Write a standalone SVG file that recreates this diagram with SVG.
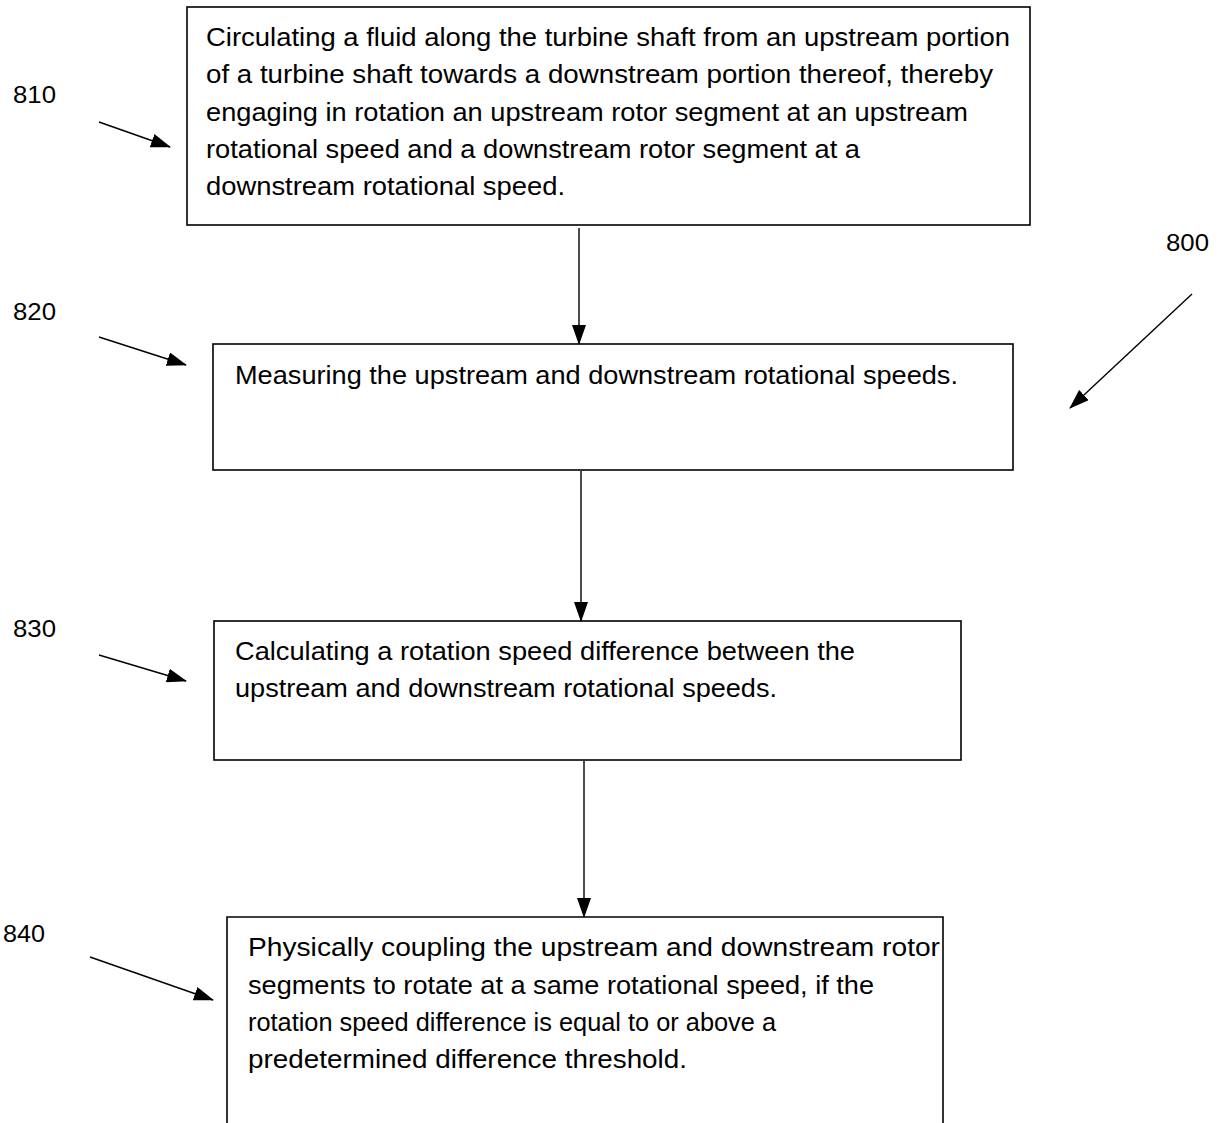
<svg xmlns="http://www.w3.org/2000/svg" width="1225" height="1123" viewBox="0 0 1225 1123">
<defs>
<marker id="ah" markerWidth="20" markerHeight="14" refX="19" refY="7" orient="auto" markerUnits="userSpaceOnUse">
<path d="M0,0 L20,7 L0,14 Z" fill="#000"/>
</marker>
<style>
.box{fill:#fff;stroke:#000;stroke-width:1.6}
.t{font-family:"Liberation Sans",Arial,sans-serif;font-size:26px;fill:#000}
.lbl{font-family:"Liberation Sans",Arial,sans-serif;font-size:23px;fill:#000}
.c{stroke:#000;stroke-width:1.4;fill:none;marker-end:url(#ah)}
</style>
</defs>
<rect width="1225" height="1123" fill="#fff"/>
<g id="n810">
<rect class="box" x="187" y="7" width="843" height="218"/>
<text class="t" x="206" y="46" textLength="804" lengthAdjust="spacingAndGlyphs">Circulating a fluid along the turbine shaft from an upstream portion</text>
<text class="t" x="206" y="83" textLength="787" lengthAdjust="spacingAndGlyphs">of a turbine shaft towards a downstream portion thereof, thereby</text>
<text class="t" x="206" y="121" textLength="762" lengthAdjust="spacingAndGlyphs">engaging in rotation an upstream rotor segment at an upstream</text>
<text class="t" x="206" y="158" textLength="654" lengthAdjust="spacingAndGlyphs">rotational speed and a downstream rotor segment at a</text>
<text class="t" x="206" y="195" textLength="359" lengthAdjust="spacingAndGlyphs">downstream rotational speed.</text>
</g>
<g id="n820">
<rect class="box" x="213" y="344" width="800" height="126"/>
<text class="t" x="235" y="384" textLength="723" lengthAdjust="spacingAndGlyphs">Measuring the upstream and downstream rotational speeds.</text>
</g>
<g id="n830">
<rect class="box" x="214" y="621" width="747" height="139"/>
<text class="t" x="235" y="660" textLength="620" lengthAdjust="spacingAndGlyphs">Calculating a rotation speed difference between the</text>
<text class="t" x="235" y="697" textLength="542" lengthAdjust="spacingAndGlyphs">upstream and downstream rotational speeds.</text>
</g>
<g id="n840">
<path class="box" d="M227,1125 L227,917 L943,917 L943,1125"/>
<text class="t" x="248" y="956" textLength="692" lengthAdjust="spacingAndGlyphs">Physically coupling the upstream and downstream rotor</text>
<text class="t" x="248" y="994" textLength="626" lengthAdjust="spacingAndGlyphs">segments to rotate at a same rotational speed, if the</text>
<text class="t" x="248" y="1031" textLength="528" lengthAdjust="spacingAndGlyphs">rotation speed difference is equal to or above a</text>
<text class="t" x="248" y="1068" textLength="439" lengthAdjust="spacingAndGlyphs">predetermined difference threshold.</text>
</g>
<g id="labels">
<text class="lbl" x="13" y="103" textLength="43" lengthAdjust="spacingAndGlyphs">810</text>
<text class="lbl" x="13" y="320" textLength="43" lengthAdjust="spacingAndGlyphs">820</text>
<text class="lbl" x="13" y="637" textLength="43" lengthAdjust="spacingAndGlyphs">830</text>
<text class="lbl" x="3" y="942" textLength="42" lengthAdjust="spacingAndGlyphs">840</text>
<text class="lbl" x="1166" y="251" textLength="43" lengthAdjust="spacingAndGlyphs">800</text>
</g>
<g id="connectors">
<line class="c" x1="579" y1="228" x2="579" y2="344"/>
<line class="c" x1="581" y1="471" x2="581" y2="621"/>
<line class="c" x1="584" y1="761" x2="584" y2="917"/>
<line class="c" x1="99" y1="122" x2="170" y2="147"/>
<line class="c" x1="99" y1="337" x2="186" y2="365"/>
<line class="c" x1="99" y1="655" x2="186" y2="681"/>
<line class="c" x1="90" y1="957" x2="213" y2="1000"/>
<line class="c" x1="1192" y1="294" x2="1070" y2="408"/>
</g>
</svg>
